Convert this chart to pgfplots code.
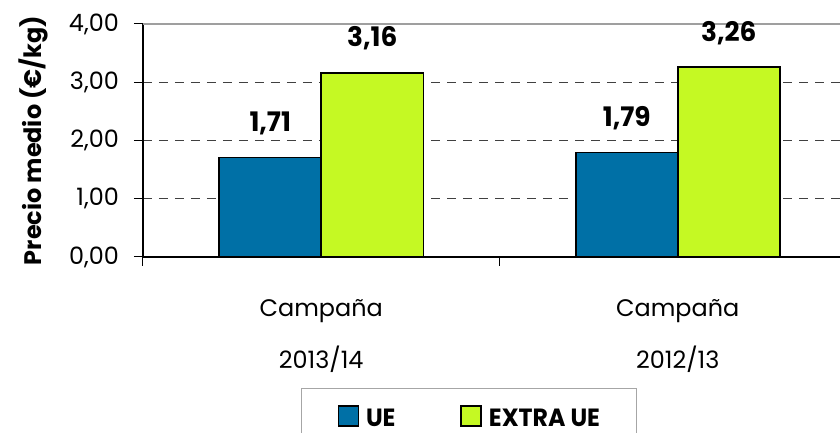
\documentclass[border=0pt]{standalone}
\usepackage{fontspec}
\setmainfont{Poppins}
\newfontfamily\cond{Poppins}[FakeStretch=0.98]
\newfontfamily\condl{Poppins}[FakeStretch=0.95]
\usepackage{pgfplots}
\pgfplotsset{compat=1.18}
\definecolor{ueblue}{HTML}{0070A6}
\definecolor{uegreen}{HTML}{C5F923}
\begin{document}
\begin{tikzpicture}
\begin{axis}[
  name=ax,
  scale only axis, width=713bp, height=233bp,
  xmin=-0.5, xmax=1.5, ymin=0, ymax=4,
  ybar=0pt, bar width=102bp,
  axis x line*=bottom, axis y line*=left,
  axis line style={-, black, line width=1.4bp},
  /pgf/number format/.cd, fixed, fixed zerofill, precision=2, use comma, assume math mode=true,
  /pgfplots/.cd,
  ytick={0,1,2,3}, extra y ticks={4},
  extra y tick style={ymajorgrids=true, major grid style={solid, gray!75, line width=1.5bp}},
  ymajorgrids,
  major grid style={dash pattern=on 9bp off 7bp, black!75, line width=0.9bp},
  tick align=outside, major tick length=9bp,
  tick style={black, line width=1bp},
  yticklabel style={font=\fontsize{24}{28}\selectfont, inner sep=0pt, xshift=-15bp},
  xtick={-0.5,0.5,1.5},
  x tick label as interval,
  xticklabels={{Campaña\\2013/14},{Campaña\\2012/13}},
  xticklabel style={align=center, font=\fontsize{24}{52}\selectfont, inner sep=0pt, yshift=-33bp},
  ylabel={\bfseries Precio medio (€/kg)},
  ylabel style={at={(axis description cs:-0.1536,0.5)}, anchor=center, font=\fontsize{24}{28}\selectfont},
  nodes near coords,
  every node near coord/.append style={font=\cond\bfseries\fontsize{27}{30}\selectfont, anchor=base, yshift=26bp, inner sep=0pt, black},
  legend columns=2,
  legend image code/.code={\draw[#1,draw=black,line width=1.5bp] (0bp,-8bp) rectangle (20bp,12bp);},
  legend style={at={(axis description cs:0.2216,-0.562)}, anchor=north west,
    draw=gray!70, line width=1bp, inner xsep=36bp, inner ysep=17bp,
    font=\condl\bfseries\fontsize{25}{30}\selectfont,
    nodes={inner sep=0pt},
    /tikz/every odd column/.append style={column sep=7bp},
    /tikz/every even column/.append style={column sep=65bp}},
]
\addplot[fill=ueblue, draw=black, line width=1.5bp] coordinates {(0,1.71) (1,1.79)};
\addplot[fill=uegreen, draw=black, line width=1.5bp] coordinates {(0,3.16) (1,3.26)};
\legend{UE, EXTRA UE}
\end{axis}
\pgfresetboundingbox
\path[use as bounding box] ([xshift=-143bp,yshift=24bp]ax.north west) rectangle ([xshift=697bp,yshift=-176bp]ax.south west);
\end{tikzpicture}
\end{document}
